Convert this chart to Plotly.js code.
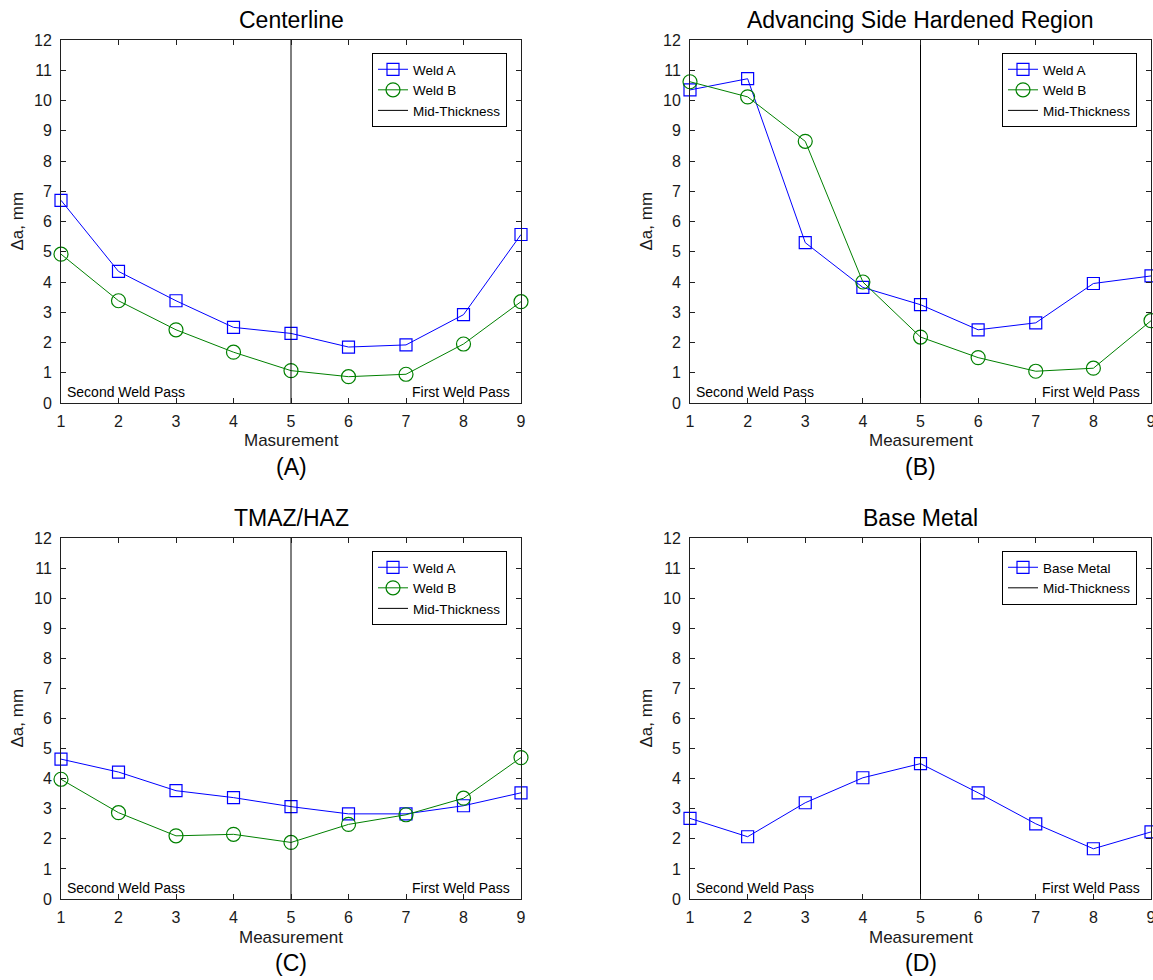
<!DOCTYPE html>
<html>
<head>
<meta charset="utf-8">
<script src="https://cdn.plot.ly/plotly-3.0.1.min.js"></script>
<style>
  html, body { margin: 0; padding: 0; background: #ffffff; }
  #chart { width: 1153px; height: 980px; }
</style>
</head>
<body>
<div id="chart"></div>
<script>
// ---------------- Data ----------------
const measurement = [1, 2, 3, 4, 5, 6, 7, 8, 9];
const midThicknessX = [5, 5];
const midThicknessY = [0, 12];

const centerlineWeldA = [6.70, 4.35, 3.38, 2.50, 2.30, 1.85, 1.92, 2.92, 5.57];
const centerlineWeldB = [4.92, 3.38, 2.42, 1.68, 1.07, 0.87, 0.95, 1.95, 3.35];

const advancingWeldA = [10.35, 10.72, 5.30, 3.82, 3.25, 2.42, 2.65, 3.95, 4.20];
const advancingWeldB = [10.62, 10.12, 8.65, 4.00, 2.18, 1.50, 1.05, 1.15, 2.72];

const tmazWeldA = [4.65, 4.22, 3.60, 3.37, 3.07, 2.83, 2.83, 3.10, 3.53];
const tmazWeldB = [3.98, 2.87, 2.10, 2.15, 1.88, 2.48, 2.80, 3.35, 4.70];

const baseMetal = [2.68, 2.07, 3.20, 4.03, 4.50, 3.53, 2.50, 1.67, 2.23];

const panelTitles = ["Centerline", "Advancing Side Hardened Region", "TMAZ/HAZ", "Base Metal"];
const panelXLabels = ["Masurement", "Measurement", "Measurement", "Measurement"];
const panelLetters = ["(A)", "(B)", "(C)", "(D)"];
const yLabel = "\u0394a, mm";
const leftNote = "Second Weld Pass";
const rightNote = "First Weld Pass";
const xTicks = [1, 2, 3, 4, 5, 6, 7, 8, 9];
const yTicks = [0, 1, 2, 3, 4, 5, 6, 7, 8, 9, 10, 11, 12];

// ---------------- Layout helpers ----------------
const W = 1153, H = 980;
const px = x => x / W;
const py = y => 1 - y / H;

const FONT = "Liberation Sans, Arial, Helvetica, sans-serif";
const BLUE = "#0000ff";
const GREEN = "#008000";
const AXIS = "#202020";

// plot area boxes in pixels [left, right, top, bottom]
const boxes = [
  [61, 521, 40, 403],
  [690, 1151, 40, 403],
  [61, 521, 538, 899],
  [690, 1151, 538, 899]
];

const traces = [];
const layout = {
  width: W, height: H,
  margin: {l: 0, r: 0, t: 0, b: 0},
  paper_bgcolor: "#ffffff",
  plot_bgcolor: "#ffffff",
  font: {family: FONT, color: "#000000"},
  showlegend: true,
  annotations: []
};

function weldTrace(y, name, color, symbol, size, idx) {
  const sfx = idx === 0 ? "" : String(idx + 1);
  return {
    x: measurement, y: y, name: name,
    type: "scatter", mode: "lines+markers",
    line: {color: color, width: 1},
    marker: {symbol: symbol, size: size, color: color, line: {color: color, width: 1.2}},
    xaxis: "x" + sfx, yaxis: "y" + sfx,
    legend: "legend" + sfx,
    cliponaxis: false
  };
}

const series = [
  [[centerlineWeldA, "Weld A"], [centerlineWeldB, "Weld B"]],
  [[advancingWeldA, "Weld A"], [advancingWeldB, "Weld B"]],
  [[tmazWeldA, "Weld A"], [tmazWeldB, "Weld B"]],
  [[baseMetal, "Base Metal"]]
];

for (let i = 0; i < 4; i++) {
  const [l, r, t, b] = boxes[i];
  const sfx = i === 0 ? "" : String(i + 1);
  const axBase = {
    showgrid: false, zeroline: false, showline: true, linecolor: AXIS, linewidth: 1,
    mirror: "ticks", ticks: "inside", ticklen: 5, tickwidth: 1, tickcolor: AXIS,
    tickfont: {family: FONT, size: 16, color: "#1a1a1a"},
    ticklabeloverflow: "allow",
    fixedrange: true
  };
  layout["xaxis" + sfx] = Object.assign({}, axBase, {
    domain: [px(l), px(r)], range: [1, 9], tickvals: xTicks,
    anchor: "y" + sfx, ticklabelstandoff: 4
  });
  layout["yaxis" + sfx] = Object.assign({}, axBase, {
    domain: [py(b), py(t)], range: [0, 12], tickvals: yTicks,
    anchor: "x" + sfx, ticklabelstandoff: 5
  });

  const ser = series[i];
  if (ser.length === 2) {
    traces.push(weldTrace(ser[0][0], ser[0][1], BLUE, "square-open", 12, i));
    traces.push(weldTrace(ser[1][0], ser[1][1], GREEN, "circle-open", 14, i));
  } else {
    traces.push(weldTrace(ser[0][0], ser[0][1], BLUE, "square-open", 12, i));
  }
  traces.push({
    x: midThicknessX, y: midThicknessY, name: "Mid-Thickness",
    type: "scatter", mode: "lines",
    line: {color: "#000000", width: 1},
    xaxis: "x" + sfx, yaxis: "y" + sfx, legend: "legend" + sfx
  });

  layout["legend" + sfx] = {
    x: px(r - 14), y: py(t + 13), xanchor: "right", yanchor: "top",
    xref: "paper", yref: "paper",
    bgcolor: "#ffffff", bordercolor: "#000000", borderwidth: 1,
    font: {family: FONT, size: 13.5, color: "#000000"},
    itemwidth: 30, tracegroupgap: 0
  };

  const cx = (l + r) / 2;
  const ann = layout.annotations;
  ann.push({text: panelTitles[i], x: px(cx), y: py(t - 20), xref: "paper", yref: "paper",
            xanchor: "center", yanchor: "middle", showarrow: false,
            font: {family: FONT, size: 23, color: "#000000"}});
  ann.push({text: panelXLabels[i], x: px(cx), y: py(b + 38), xref: "paper", yref: "paper",
            xanchor: "center", yanchor: "middle", showarrow: false,
            font: {family: FONT, size: 17, color: "#1a1a1a"}});
  ann.push({text: panelLetters[i], x: px(cx), y: py(b + 64), xref: "paper", yref: "paper",
            xanchor: "center", yanchor: "middle", showarrow: false,
            font: {family: FONT, size: 23, color: "#000000"}});
  ann.push({text: yLabel, x: px(l - 44), y: py((t + b) / 2), xref: "paper", yref: "paper",
            xanchor: "center", yanchor: "middle", showarrow: false, textangle: -90,
            font: {family: FONT, size: 17, color: "#1a1a1a"}});
  ann.push({text: leftNote, x: px(l + 4), y: py(b - 1), xref: "paper", yref: "paper",
            xanchor: "left", yanchor: "bottom", showarrow: false,
            font: {family: FONT, size: 14, color: "#000000"}});
  ann.push({text: rightNote, x: px(r - 9), y: py(b - 1), xref: "paper", yref: "paper",
            xanchor: "right", yanchor: "bottom", showarrow: false,
            font: {family: FONT, size: 14, color: "#000000"}});
}

Plotly.newPlot("chart", traces, layout, {displayModeBar: false, staticPlot: true});
</script>
</body>
</html>
